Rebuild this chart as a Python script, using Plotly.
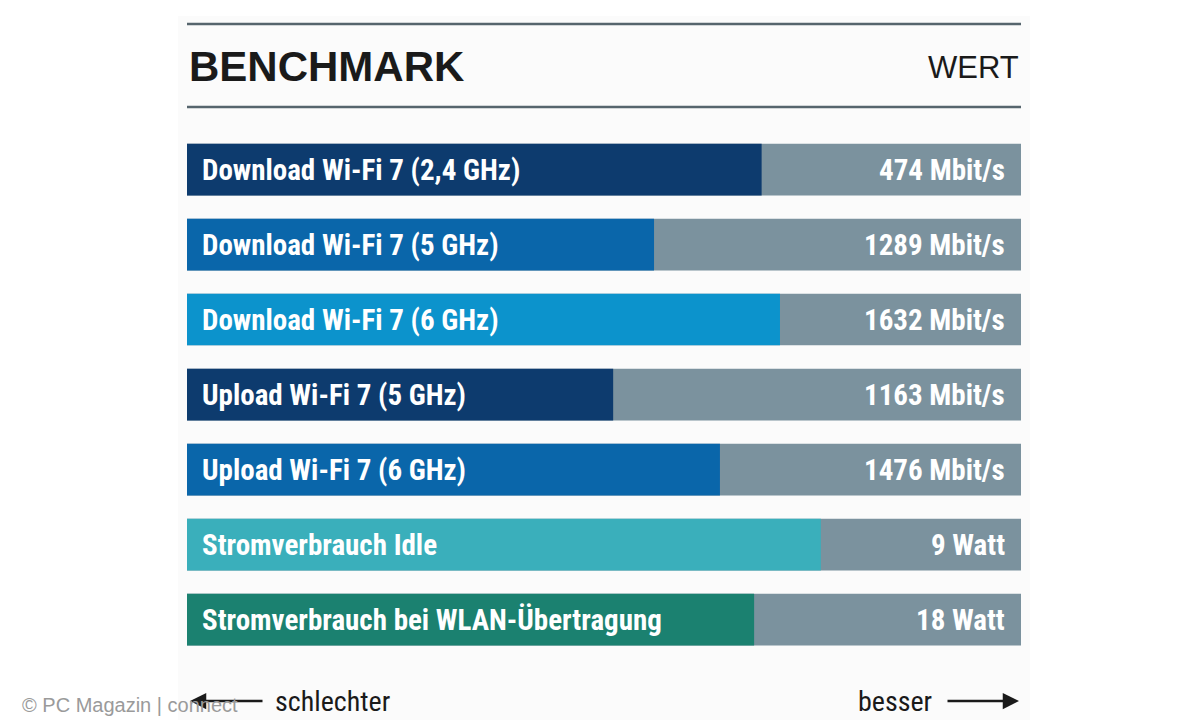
import plotly.graph_objects as go

# data
labels = [
    "Download Wi-Fi 7 (2,4 GHz)",
    "Download Wi-Fi 7 (5 GHz)",
    "Download Wi-Fi 7 (6 GHz)",
    "Upload Wi-Fi 7 (5 GHz)",
    "Upload Wi-Fi 7 (6 GHz)",
    "Stromverbrauch Idle",
    "Stromverbrauch bei WLAN-Übertragung",
]
werte = ["474 Mbit/s", "1289 Mbit/s", "1632 Mbit/s", "1163 Mbit/s",
         "1476 Mbit/s", "9 Watt", "18 Watt"]
score = [68.9, 56.0, 71.1, 51.1, 63.9, 76.0, 68.0]
farben = ["#0d3b6e", "#0a66aa", "#0c93cc", "#0d3b6e", "#0a66aa", "#3aafbb", "#1b8170"]

GRAU = "#7b929e"
NARROW = "Liberation Sans Narrow, Arial Narrow, Roboto Condensed, sans-serif"

W, H = 1200, 720
L, R, T, B = 179, 1013, 124, 649


def px(x):
    return (x - L) / (R - L)


def py(y):
    return (B - y) / (B - T)


fig = go.Figure()

fig.add_trace(go.Bar(
    y=labels, x=[100] * len(labels), orientation="h",
    marker=dict(color=GRAU, line=dict(width=0)), width=0.69,
    hoverinfo="skip",
))
fig.add_trace(go.Bar(
    y=labels, x=score, orientation="h",
    marker=dict(color=farben, line=dict(width=0)), width=0.69,
    hoverinfo="skip",
))

annotations = []
for lab, wert in zip(labels, werte):
    annotations.append(dict(
        x=0, y=lab, xref="x", yref="y", text=lab, showarrow=False,
        xanchor="left", xshift=13,
        font=dict(family=NARROW, size=29, color="white", weight="bold"),
    ))
    annotations.append(dict(
        x=100, y=lab, xref="x", yref="y", text=wert, showarrow=False,
        xanchor="right", xshift=-14,
        font=dict(family=NARROW, size=29, color="white", weight="bold"),
    ))

# header
annotations += [
    dict(x=px(179), y=py(58), xref="paper", yref="paper", text="<b>BENCHMARK</b>",
         showarrow=False, xanchor="left", yanchor="middle",
         font=dict(family="Liberation Sans, Arial", size=42, color="#1a1a1a")),
    dict(x=px(1013), y=py(60), xref="paper", yref="paper", text="WERT",
         showarrow=False, xanchor="right", yanchor="middle",
         font=dict(family="Liberation Sans, Arial", size=31, color="#1a1a1a")),
    dict(x=px(265), y=py(693), xref="paper", yref="paper", text="schlechter",
         showarrow=False, xanchor="left", yanchor="middle",
         font=dict(family=NARROW, size=28, color="#1a1a1a")),
    dict(x=px(926), y=py(693), xref="paper", yref="paper", text="besser",
         showarrow=False, xanchor="right", yanchor="middle",
         font=dict(family=NARROW, size=28, color="#1a1a1a")),
    # arrows
    dict(x=px(182), y=py(693), ax=74, ay=0, xref="paper", yref="paper",
         showarrow=True, arrowhead=2, arrowsize=1.3,
         arrowwidth=2.5, arrowcolor="#1a1a1a", text=""),
    dict(x=px(1011), y=py(693), ax=-73, ay=0, xref="paper", yref="paper",
         showarrow=True, arrowhead=2, arrowsize=1.3,
         arrowwidth=2.5, arrowcolor="#1a1a1a", text=""),
    dict(x=px(12), y=py(697), xref="paper", yref="paper", text="© PC Magazin | connect",
         showarrow=False, xanchor="left", yanchor="middle",
         font=dict(family="Liberation Sans, Arial", size=20, color="#9a9a9a")),
]

shapes = [
    dict(type="rect", xref="paper", yref="paper", x0=px(170), x1=px(1022),
         y0=py(720), y1=py(8), fillcolor="#fbfbfb", line=dict(width=0), layer="below"),
    dict(type="line", xref="paper", yref="paper", x0=0, x1=1, y0=py(16), y1=py(16),
         line=dict(color="#56656d", width=2.5)),
    dict(type="line", xref="paper", yref="paper", x0=0, x1=1, y0=py(99), y1=py(99),
         line=dict(color="#56656d", width=2.5)),
]

fig.update_layout(
    width=W, height=H,
    barmode="overlay",
    showlegend=False,
    paper_bgcolor="white",
    plot_bgcolor="rgba(0,0,0,0)",
    margin=dict(l=L, r=W - R, t=T, b=H - B, pad=0),
    annotations=annotations,
    shapes=shapes,
    xaxis=dict(range=[0, 100], visible=False, fixedrange=True),
    yaxis=dict(autorange="reversed", visible=False, fixedrange=True),
)

fig.write_html("out.html")
